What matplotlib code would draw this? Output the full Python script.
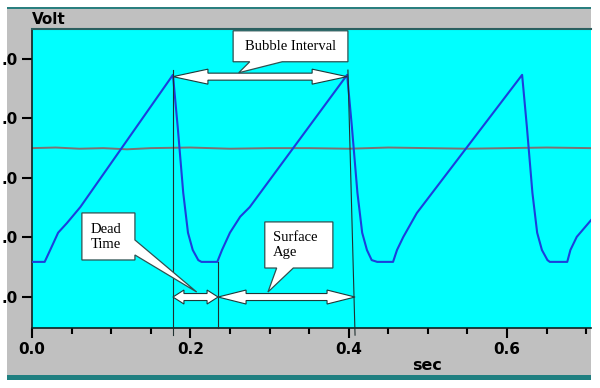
import matplotlib
matplotlib.use("Agg")
import matplotlib.pyplot as plt
from matplotlib.patches import Rectangle, Polygon

# waveform (sec, volt)
t_sig = [0.0, 0.016, 0.023, 0.033, 0.044, 0.061, 0.178,
         0.184, 0.191, 0.197, 0.203, 0.210, 0.214, 0.234, 0.240, 0.250, 0.263, 0.275, 0.398,
         0.404, 0.411, 0.417, 0.423, 0.429, 0.436, 0.456, 0.461, 0.469, 0.486, 0.619,
         0.625, 0.632, 0.638, 0.644, 0.651, 0.654, 0.676, 0.680, 0.688, 0.706]
v_sig = [0.59, 0.59, 0.79, 1.08, 1.24, 1.51, 3.73,
         2.86, 1.75, 1.08, 0.79, 0.62, 0.59, 0.59, 0.79, 1.08, 1.35, 1.51, 3.73,
         2.86, 1.75, 1.08, 0.79, 0.62, 0.59, 0.59, 0.79, 1.01, 1.41, 3.73,
         2.86, 1.75, 1.08, 0.79, 0.62, 0.59, 0.59, 0.79, 1.01, 1.29]

# reference trace (grey, almost flat)
t_ref = [0.0, 0.03, 0.06, 0.09, 0.12, 0.15, 0.2, 0.25, 0.3, 0.35, 0.4, 0.45, 0.5, 0.55, 0.6, 0.65, 0.706]
v_ref = [2.50, 2.51, 2.49, 2.50, 2.48, 2.50, 2.51, 2.49, 2.50, 2.50, 2.49, 2.51, 2.50, 2.49, 2.50, 2.51, 2.50]

x_major = [0.0, 0.2, 0.4, 0.6]
x_labels = ["0.0", "0.2", "0.4", "0.6"]
y_major = [0, 1, 2, 3, 4]
y_labels = [".0", ".0", ".0", ".0", ".0"]

W, H = 600, 388
fig = plt.figure(figsize=(6, 3.88), dpi=100, facecolor="white")

def fx(px):
    return px / W

def fy(py):
    return 1 - py / H

# grey panel and teal bars, behind the axes
fig.patches.append(Rectangle((fx(7), fy(376)), fx(584), (376 - 9) / H, transform=fig.transFigure,
                             facecolor="#c0c0c0", edgecolor="none", zorder=-3))
fig.patches.append(Rectangle((fx(7), fy(9)), fx(584), 2 / H, transform=fig.transFigure,
                             facecolor="#2a7f7f", edgecolor="none", zorder=-2))
fig.patches.append(Rectangle((fx(7), fy(380)), fx(584), 5 / H, transform=fig.transFigure,
                             facecolor="#1f7f80", edgecolor="none", zorder=-2))

ax = fig.add_axes([fx(32), fy(328), fx(591 - 32), (328 - 29) / H])
ax.set_facecolor("#00ffff")
ax.set_xlim(0, 0.706)
ax.set_ylim(-0.52, 4.50)

ax.plot(t_ref, v_ref, color="#7d7272", lw=1.4, zorder=2)
ax.plot(t_sig, v_sig, color="#1c3fdc", lw=1.5, zorder=3)

ax.set_xticks(x_major)
ax.set_xticklabels(x_labels)
ax.set_xticks([0.05, 0.1, 0.15, 0.25, 0.3, 0.35, 0.45, 0.5, 0.55, 0.65, 0.7], minor=True)
ax.set_yticks(y_major)
ax.set_yticklabels(y_labels)
ax.tick_params(axis="both", which="major", length=7, width=1.5, color="black",
               labelsize=11, pad=3)
ax.tick_params(axis="x", which="minor", length=4, width=1.5, color="black")
for lab in ax.get_xticklabels() + ax.get_yticklabels():
    lab.set_fontweight("bold")

for s in ["left", "bottom"]:
    ax.spines[s].set_color("#102020")
    ax.spines[s].set_linewidth(1.2)
ax.spines["top"].set_color("#2a5f5f")
ax.spines["top"].set_linewidth(1.5)
ax.spines["right"].set_visible(False)

fig.text(fx(32), fy(20), "Volt", fontsize=11, fontweight="bold", va="center", ha="left")
fig.text(fx(427), fy(365), "sec", fontsize=11.5, fontweight="bold", va="center", ha="center")

# pixel -> data scale
sx = 0.706 / (591 - 32)
sy = (4.50 + 0.52) / (328 - 29)

# guide lines
line_kw = dict(color="#203030", lw=0.8, zorder=4, clip_on=False)
ax.plot([0.1775, 0.1775], [3.81, -0.64], **line_kw)
ax.plot([0.235, 0.235], [0.59, -0.52], **line_kw)
ax.plot([0.399, 0.408], [3.81, -0.64], **line_kw)


def double_arrow(x0, x1, y, hl, hw, sw):
    hl, hw, sw = hl * sx, hw * sy, sw * sy
    pts = [(x0, y), (x0 + hl, y + hw), (x0 + hl, y + sw), (x1 - hl, y + sw),
           (x1 - hl, y + hw), (x1, y), (x1 - hl, y - hw), (x1 - hl, y - sw),
           (x0 + hl, y - sw), (x0 + hl, y - hw)]
    ax.add_patch(Polygon(pts, closed=True, facecolor="white", edgecolor="#203838",
                         lw=0.8, zorder=5))


double_arrow(0.178, 0.398, 3.70, 35, 7.5, 3.5)
double_arrow(0.178, 0.235, 0.0, 11, 7, 3.5)
double_arrow(0.235, 0.408, 0.0, 28, 7, 3.5)


def callout(pts):
    ax.add_patch(Polygon(pts, closed=True, facecolor="white", edgecolor="#305050",
                         lw=0.9, zorder=6))


# Bubble Interval box, pointer at the bottom
callout([(0.254, 4.47), (0.399, 4.47), (0.399, 3.95), (0.316, 3.95), (0.261, 3.765),
         (0.275, 3.95), (0.254, 3.95)])
ax.text(0.3265, 4.21, "Bubble Interval", family="Liberation Serif", fontsize=10.5,
        ha="center", va="center", zorder=7)

# Dead Time box, pointer from the right edge
callout([(0.063, 1.412), (0.130, 1.412), (0.130, 0.958), (0.208, 0.084), (0.130, 0.706),
         (0.130, 0.622), (0.063, 0.622)])
ax.text(0.074, 1.01, "Dead\nTime", family="Liberation Serif", fontsize=10.5,
        ha="left", va="center", linespacing=1.2, zorder=7)

# Surface Age box, pointer at the bottom
callout([(0.294, 1.261), (0.380, 1.261), (0.380, 0.487), (0.330, 0.487), (0.298, 0.084),
         (0.309, 0.487), (0.294, 0.487)])
ax.text(0.304, 0.874, "Surface\nAge", family="Liberation Serif", fontsize=10.5,
        ha="left", va="center", linespacing=1.2, zorder=7)

fig.savefig("out.png", dpi=100, facecolor="white")
